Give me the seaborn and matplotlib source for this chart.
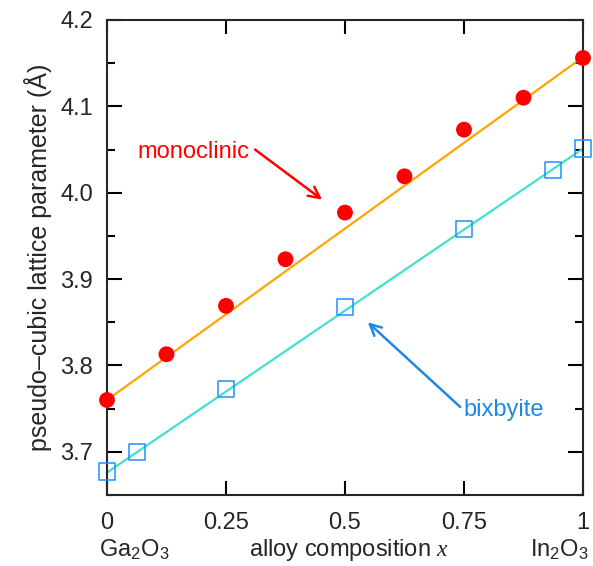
import numpy as np
import pandas as pd
import matplotlib
matplotlib.use("Agg")
import matplotlib.pyplot as plt
import seaborn as sns
from matplotlib.ticker import MultipleLocator

# Lattice parameters
mono_x = [0.0, 0.125, 0.25, 0.375, 0.5, 0.625, 0.75, 0.875, 1.0]
mono_a = [3.760, 3.813, 3.869, 3.923, 3.977, 4.019, 4.073, 4.110, 4.156]
bix_x = [0.0, 0.0625, 0.25, 0.5, 0.75, 0.9375, 1.0]
bix_a = [3.677, 3.700, 3.773, 3.868, 3.958, 4.026, 4.051]
# Vegard lines (end points)
mono_fit = [3.760, 4.157]
bix_fit = [3.676, 4.051]
fit_x = [0.0, 1.0]

xticks = [0, 0.25, 0.5, 0.75, 1]
xticklabels = ["0", "0.25", "0.5", "0.75", "1"]
yticks = [3.7, 3.8, 3.9, 4.0, 4.1, 4.2]

FS = 17

sns.set_style("ticks")
plt.rcParams["font.family"] = ["Liberation Sans", "DejaVu Sans"]
plt.rcParams["mathtext.fontset"] = "custom"
plt.rcParams["mathtext.rm"] = "Liberation Sans"
plt.rcParams["mathtext.it"] = "Liberation Serif:italic"

fig = plt.figure(figsize=(5.93, 5.66), dpi=100)
ax = fig.add_axes([0.1804, 0.1254, 0.8027, 0.8393])

sns.lineplot(x=fit_x, y=mono_fit, color="#ffa500", lw=1.6, ax=ax)
sns.lineplot(x=fit_x, y=bix_fit, color="#40e0d0", lw=1.6, ax=ax)
sns.scatterplot(x=mono_x, y=mono_a, color="#ff0000", s=130, edgecolor="none",
                ax=ax, zorder=3, clip_on=False)
sns.scatterplot(x=bix_x, y=bix_a, marker="s", s=140, facecolor="none",
                edgecolor="#1e90ff", linewidth=1.1, ax=ax, zorder=3, clip_on=False)

ax.set_xlim(0, 1)
ax.set_ylim(3.65, 4.2)
ax.set_xticks(xticks)
ax.set_xticklabels(xticklabels)
ax.set_yticks(yticks)
ax.yaxis.set_minor_locator(MultipleLocator(0.05))
ax.tick_params(which="both", direction="in", top=True, right=True,
               labelsize=FS, width=1.5, color="black")
ax.tick_params(axis="y", which="major", length=11, pad=10)
ax.tick_params(axis="y", which="minor", length=6)
ax.tick_params(axis="x", which="major", length=10, pad=12)
for sp in ax.spines.values():
    sp.set_linewidth(1.5)
    sp.set_visible(True)

ax.set_ylabel("pseudo\u2013cubic lattice parameter (Å)", fontsize=18, labelpad=6)

trans = ax.get_xaxis_transform()
ax.text(0.057, -0.115, r"Ga$_{\mathrm{2}}$O$_{\mathrm{3}}$", transform=trans,
        ha="center", va="center", fontsize=FS)
ax.text(0.508, -0.115, r"alloy composition $x$", transform=trans,
        ha="center", va="center", fontsize=FS)
ax.text(0.95, -0.115, r"In$_{\mathrm{2}}$O$_{\mathrm{3}}$", transform=trans,
        ha="center", va="center", fontsize=FS)

ax.text(0.181, 4.047, "monoclinic", color="#ff0000", fontsize=FS,
        ha="center", va="center")
ax.annotate("", xy=(0.452, 3.992), xytext=(0.311, 4.050),
            arrowprops=dict(arrowstyle="->", color="#ff0000", lw=1.8,
                            mutation_scale=20, shrinkA=0, shrinkB=0))
ax.text(0.834, 3.749, "bixbyite", color="#1e88e5", fontsize=FS,
        ha="center", va="center")
ax.annotate("", xy=(0.548, 3.850), xytext=(0.742, 3.752),
            arrowprops=dict(arrowstyle="->", color="#1e88e5", lw=1.8,
                            mutation_scale=20, shrinkA=0, shrinkB=0))

fig.savefig("out.png", dpi=100)
